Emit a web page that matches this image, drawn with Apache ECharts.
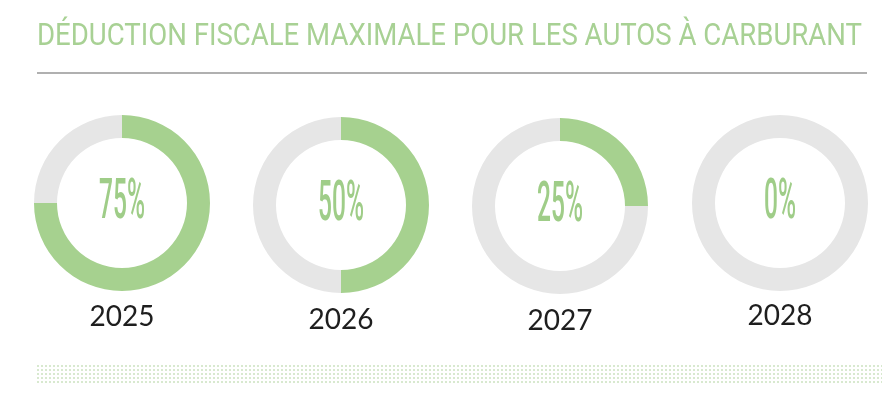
<!DOCTYPE html>
<html><head><meta charset="utf-8">
<script src="https://cdn.jsdelivr.net/npm/echarts@6/dist/echarts.min.js"></script>
<style>html,body{margin:0;padding:0;background:#fff}#c{width:890px;height:393px}</style>
</head><body><div id="c"></div>
<script>
const titleText = 'DÉDUCTION FISCALE MAXIMALE POUR LES AUTOS À CARBURANT';
const years = ['2025', '2026', '2027', '2028'];
const deduction = [75, 50, 25, 0];
const remainder = [25, 50, 75, 100];

const centers = [[122, 203], [341, 205], [560, 206], [780, 203]];
const yearY = [317, 320, 321, 316];
const GREEN = '#a6d18f';
const GRAY = '#e6e6e6';

function measure(font, text) {
  const c = document.createElement('canvas').getContext('2d');
  c.font = font; return c.measureText(text).width;
}
const titleFont = '31px Roboto';
const titleScale = 825 / measure(titleFont, titleText);
const pctFont = '500 55px Roboto';
const pctScale = 46 / measure(pctFont, '75%');

// dot pattern
const pat = document.createElement('canvas');
pat.width = 4; pat.height = 4;
const pc = pat.getContext('2d');
pc.fillStyle = '#d8e9cf';
pc.fillRect(1, 1, 2, 2);

const chart = echarts.init(document.getElementById('c'), null, {renderer: 'canvas'});
const series = years.map((y, i) => ({
  type: 'pie', silent: true, animation: false,
  center: centers[i], radius: [65, 88],
  startAngle: 90, clockwise: true,
  label: {show: false}, labelLine: {show: false},
  emphasis: {disabled: true},
  itemStyle: {borderWidth: 0},
  data: [
    {value: deduction[i], itemStyle: {color: GREEN}},
    {value: remainder[i], itemStyle: {color: GRAY}}
  ]
}));

const graphic = [
  {type: 'text', x: 37, y: 37, scaleX: titleScale,
   style: {text: titleText, font: titleFont, fill: '#a8d194', align: 'left', verticalAlign: 'middle'}},
  {type: 'rect', shape: {x: 37, y: 72, width: 830, height: 2}, style: {fill: '#b0b0b0'}},
  {type: 'rect', shape: {x: 37, y: 363, width: 845, height: 20}, style: {fill: {image: pat, repeat: 'repeat'}}}
];
years.forEach((y, i) => {
  graphic.push({type: 'text', x: centers[i][0], y: centers[i][1] + 1, scaleX: pctScale,
    style: {text: deduction[i] + '%', font: pctFont, fill: '#9fcd88', align: 'center', verticalAlign: 'middle'}});
  graphic.push({type: 'text', x: centers[i][0], y: yearY[i],
    style: {text: y, font: '28px Lato', fill: '#1e1e1e', align: 'center', verticalAlign: 'middle'}});
});

chart.setOption({animation: false, series, graphic});
</script></body></html>
